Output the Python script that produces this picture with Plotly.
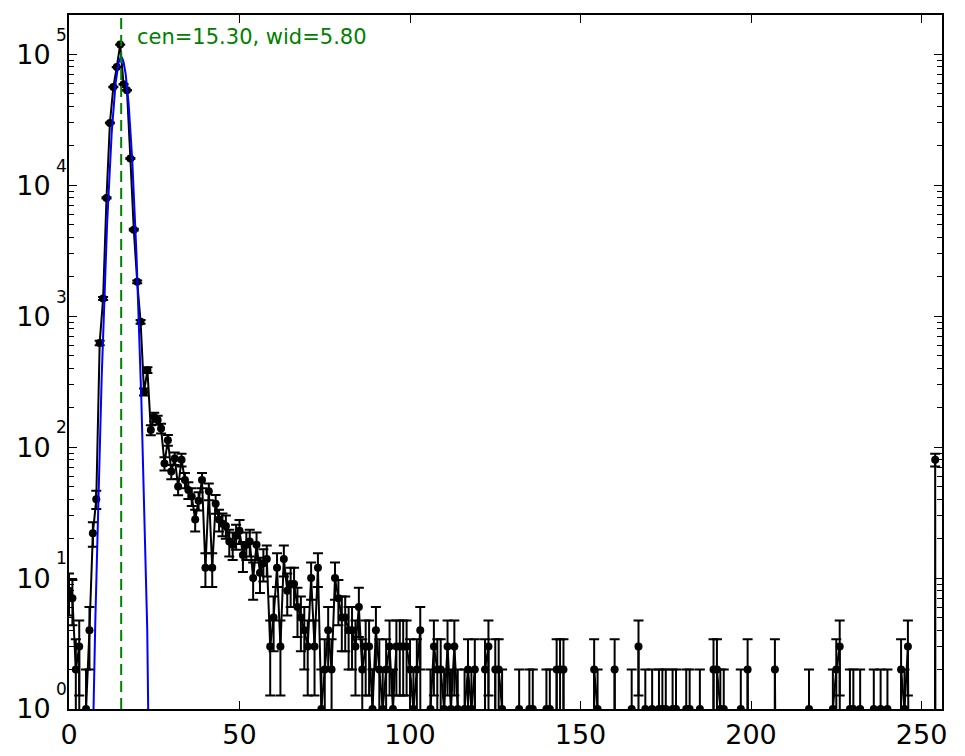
import numpy as np
import plotly.graph_objs as go

# histogram counts, one value per bin (bins 0..255)
bins = list(range(256))
counts = [
    8, 7, 2, 3, 0, 1, 4, 22, 40, 625, 1365, 8000, 29900, 56200, 79800, 118600,
    59000, 53100, 16000, 4580, 1830, 906, 264, 387, 135, 170, 161, 139, 75, 113, 65, 82,
    50, 80, 56, 47, 42, 28, 39, 56, 12, 46, 12, 37, 28, 26, 25, 19,
    18, 21, 23, 15, 18, 19, 10, 18, 11, 13, 14, 3, 5, 12, 3, 14,
    8, 9, 9, 6, 5, 4, 3, 10, 3, 12, 1, 2, 4, 2, 10, 7,
    5, 5, 4, 4, 3, 6, 2, 3, 3, 1, 4, 2, 1, 2, 3, 1,
    3, 3, 3, 3, 2, 1, 2, 4, 0, 0, 1, 3, 2, 2, 1, 3,
    1, 3, 1, 0, 1, 2, 1, 2, 0, 0, 2, 3, 0, 2, 2, 1,
    0, 0, 0, 0, 1, 0, 0, 1, 1, 0, 0, 0, 1, 1, 0, 2,
    2, 2, 0, 0, 0, 0, 0, 0, 0, 0, 2, 1, 0, 0, 0, 0,
    2, 0, 0, 0, 0, 1, 0, 3, 0, 1, 0, 1, 0, 1, 1, 1,
    0, 1, 1, 0, 0, 1, 1, 0, 0, 1, 0, 0, 0, 2, 2, 1,
    1, 0, 0, 0, 0, 1, 0, 2, 0, 0, 0, 0, 0, 0, 0, 2,
    0, 0, 0, 0, 0, 0, 0, 0, 0, 1, 0, 0, 0, 0, 0, 0,
    1, 2, 3, 0, 0, 1, 1, 0, 1, 0, 0, 0, 1, 0, 1, 0,
    1, 0, 0, 0, 2, 1, 3, 0, 0, 0, 0, 0, 0, 0, 80, 0,
]

# gaussian fit parameters (cen, wid from the label, amplitude)
fit_cen = 15.30
fit_wid = 5.80
fit_amp = 95000

x_ticks = [0, 50, 100, 150, 200, 250]
y_exponents = [0, 1, 2, 3, 4, 5]

counts = np.array(counts, dtype=float)
errors = np.sqrt(counts)
# empty bins drop to the bottom of the log axis, like the original
y_plot = np.where(counts > 0, counts, 1e-30)

fit_x = np.linspace(0, 40, 801)
fit_y = fit_amp * np.exp(-(fit_x - fit_cen) ** 2 / fit_wid)

trace_data = go.Scatter(
    x=bins, y=y_plot, mode='lines+markers',
    line=dict(color='black', width=2),
    marker=dict(color='black', size=8),
    error_y=dict(type='data', array=errors, color='black', thickness=2, width=5),
    showlegend=False,
)
trace_fit = go.Scatter(
    x=fit_x, y=fit_y, mode='lines',
    line=dict(color='#0000ff', width=2),
    showlegend=False,
)

fig = go.Figure(data=[trace_data, trace_fit])

fig.add_shape(type='line', x0=fit_cen, x1=fit_cen, y0=0, y1=1, yref='paper',
              line=dict(color='#008000', width=2, dash='11px,6px'))

fig.add_annotation(text='cen=%.2f, wid=%.2f' % (fit_cen, fit_wid),
                   xref='paper', yref='paper', x=0.0756, y=0.968,
                   xanchor='left', yanchor='middle', showarrow=False,
                   font=dict(family='DejaVu Sans', size=21, color='#008000'))

# matplotlib-style exponents sitting above and right of each "10"
for e in y_exponents:
    fig.add_annotation(text=str(e), xref='paper', yref='y', x=0.0, y=e + 0.15,
                       xanchor='right', yanchor='middle', showarrow=False,
                       font=dict(family='DejaVu Sans', size=17, color='black'))

fig.update_layout(
    width=965, height=756,
    margin=dict(l=69, r=23, t=15, b=47),
    plot_bgcolor='white', paper_bgcolor='white',
    font=dict(family='DejaVu Sans', color='black'),
)
fig.update_xaxes(
    range=[0, 256], tickvals=x_ticks, ticks='inside', ticklen=8, tickwidth=1,
    tickcolor='black', showline=True, linewidth=2, linecolor='black', mirror='ticks',
    showgrid=False, zeroline=False, tickfont=dict(size=27), ticklabelstandoff=1,
    automargin=False,
)
fig.update_yaxes(
    type='log', range=[0, 5.3],
    tickvals=[10 ** e for e in y_exponents], ticktext=['10'] * len(y_exponents),
    ticks='inside', ticklen=8, tickwidth=1, tickcolor='black',
    minor=dict(ticks='inside', ticklen=5, tickcolor='black', dtick='D1', showgrid=False),
    showline=True, linewidth=2, linecolor='black', mirror='ticks',
    showgrid=False, zeroline=False, tickfont=dict(size=27), ticklabelstandoff=11,
    automargin=False,
)

# drop the browser's default page margin so the figure sits at the top-left corner
fig.write_html('out.html', config={'displayModeBar': False},
               post_script="document.body.style.margin='0';"
               "document.body.style.overflow='hidden';")
